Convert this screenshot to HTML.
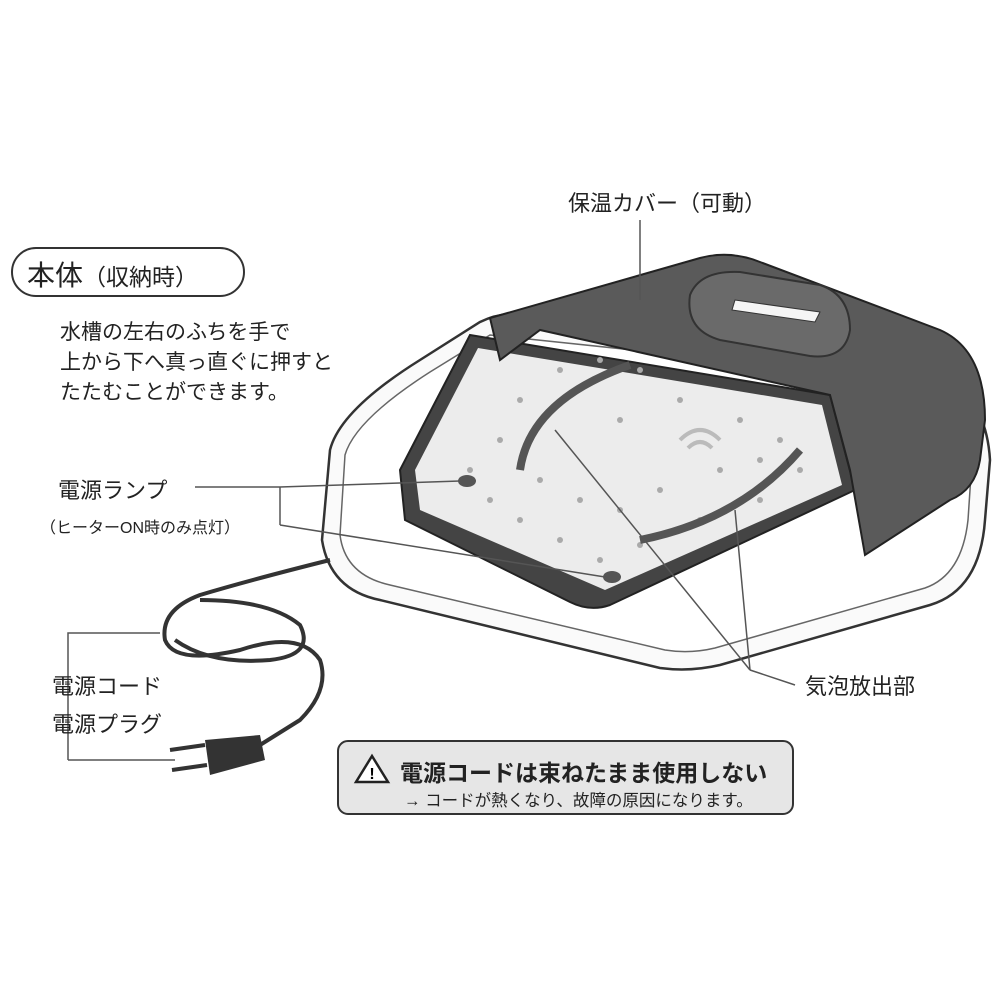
<!DOCTYPE html>
<html><head><meta charset="utf-8"><style>
html,body{margin:0;padding:0;background:#fff}
body{width:1000px;height:1000px;position:relative;overflow:hidden;font-family:"Liberation Sans","Noto Sans CJK JP",sans-serif;color:#222}
.t{position:absolute;white-space:nowrap}
</style></head><body>
<svg width="1000" height="1000" style="position:absolute;left:0;top:0">
<path d="M330,450 Q340,410 420,360 L480,322 Q500,312 520,315 L900,360 Q985,375 990,460 L985,520 Q980,590 930,605 L720,665 Q690,672 660,668 L380,600 Q330,590 322,540 Z" fill="#fafafa" stroke="#333" stroke-width="2.5"/>
<path d="M345,455 Q355,420 430,372 L490,335 L900,378 Q970,390 972,460 L968,520 Q962,575 925,588 L715,648 Q690,654 665,650 L390,585 Q345,575 340,535 Z" fill="#fff" stroke="#666" stroke-width="1.5"/>
<path d="M400,470 L470,335 L830,395 L855,490 L610,605 Q590,612 570,602 L405,520 Z" fill="#444" stroke="#222" stroke-width="2"/>
<path d="M415,470 L478,348 L822,405 L842,485 L605,590 L420,510 Z" fill="#ececec"/>
<g fill="#aaa">
<circle cx="470" cy="470" r="3"/><circle cx="490" cy="500" r="3"/><circle cx="520" cy="520" r="3"/><circle cx="560" cy="540" r="3"/><circle cx="600" cy="560" r="3"/><circle cx="640" cy="545" r="3"/><circle cx="700" cy="520" r="3"/><circle cx="760" cy="500" r="3"/><circle cx="800" cy="470" r="3"/><circle cx="780" cy="440" r="3"/><circle cx="740" cy="420" r="3"/><circle cx="600" cy="360" r="3"/><circle cx="640" cy="370" r="3"/><circle cx="560" cy="370" r="3"/><circle cx="520" cy="400" r="3"/><circle cx="500" cy="440" r="3"/><circle cx="540" cy="480" r="3"/><circle cx="580" cy="500" r="3"/><circle cx="620" cy="510" r="3"/><circle cx="660" cy="490" r="3"/><circle cx="720" cy="470" r="3"/><circle cx="760" cy="460" r="3"/><circle cx="680" cy="400" r="3"/><circle cx="620" cy="420" r="3"/>
</g>
<path d="M520,470 Q530,400 630,365" fill="none" stroke="#555" stroke-width="8"/>
<path d="M640,540 Q740,520 800,450" fill="none" stroke="#555" stroke-width="8"/>
<path d="M680,440 Q700,420 720,440 M688,448 Q700,436 712,448" fill="none" stroke="#bbb" stroke-width="4"/>
<ellipse cx="467" cy="481" rx="9" ry="6" fill="#555"/>
<ellipse cx="612" cy="577" rx="9" ry="6" fill="#555"/>
<path d="M490,318 L700,258 Q730,250 760,262 L940,330 Q985,350 985,420 L980,460 Q975,490 950,500 L865,555 L850,470 L830,395 L540,330 L500,360 Z" fill="#5a5a5a" stroke="#222" stroke-width="2"/>
<path d="M690,295 Q700,270 740,272 L820,285 Q850,295 850,330 Q845,360 810,356 L720,340 Q685,330 690,295 Z" fill="#6a6a6a" stroke="#333" stroke-width="2"/>
<path d="M735,300 L820,312 L815,322 L732,310 Z" fill="#f5f5f5" stroke="#333"/>
<g stroke="#555" stroke-width="1.5" fill="none">
<line x1="640" y1="220" x2="640" y2="300"/>
<line x1="195" y1="487" x2="280" y2="487"/><line x1="280" y1="487" x2="460" y2="481"/>
<line x1="280" y1="487" x2="280" y2="525"/><line x1="280" y1="525" x2="605" y2="577"/>
<line x1="555" y1="430" x2="750" y2="670"/><line x1="735" y1="510" x2="750" y2="670"/><line x1="750" y1="670" x2="795" y2="685"/>
<path d="M68,760 L68,633 L160,633"/><path d="M68,760 L175,760"/>
</g>
<g fill="none" stroke="#333" stroke-width="4">
<path d="M330,560 Q250,580 200,595 Q160,610 165,640 Q175,665 240,650 Q300,630 320,660 Q330,690 300,720 L260,745"/>
<path d="M200,600 Q270,600 300,625 Q315,655 270,660 Q210,665 175,640"/>
</g>
<path d="M205,740 L260,735 L265,760 L210,775 Z" fill="#333"/>
<path d="M170,750 L205,745 M172,770 L207,765" stroke="#333" stroke-width="4"/>
<rect x="12" y="248" width="232" height="48" rx="24" fill="#fff" stroke="#333" stroke-width="2"/>
<rect x="338" y="741" width="455" height="73" rx="10" fill="#e6e6e6" stroke="#333" stroke-width="2"/>
<path d="M372,756 L388,782 L356,782 Z" fill="#fff" stroke="#222" stroke-width="2.5"/>
<text x="372" y="779" font-size="16" font-weight="bold" text-anchor="middle" font-family="Liberation Sans">!</text>
</svg>
<div class="t" style="left:27px;top:254px;font-size:28px">本体<span style="font-size:23px">（収納時）</span></div>
<div class="t" style="left:60px;top:318px;font-size:21px;line-height:30px">水槽の左右のふちを手で<br>上から下へ真っ直ぐに押すと<br>たたむことができます。</div>
<div class="t" style="left:568px;top:186px;font-size:22px">保温カバー（可動）</div>
<div class="t" style="left:58px;top:473px;font-size:22px">電源ランプ</div>
<div class="t" style="left:40px;top:514px;font-size:16px">（ヒーターON時のみ点灯）</div>
<div class="t" style="left:805px;top:669px;font-size:22px">気泡放出部</div>
<div class="t" style="left:52px;top:669px;font-size:22px">電源コード</div>
<div class="t" style="left:52px;top:707px;font-size:22px">電源プラグ</div>
<div class="t" style="left:400px;top:754px;font-size:23px;font-weight:bold">電源コードは束ねたまま使用しない</div>
<div class="t" style="left:404px;top:787px;font-size:16.5px">→ コードが熱くなり、故障の原因になります。</div>
</body></html>
